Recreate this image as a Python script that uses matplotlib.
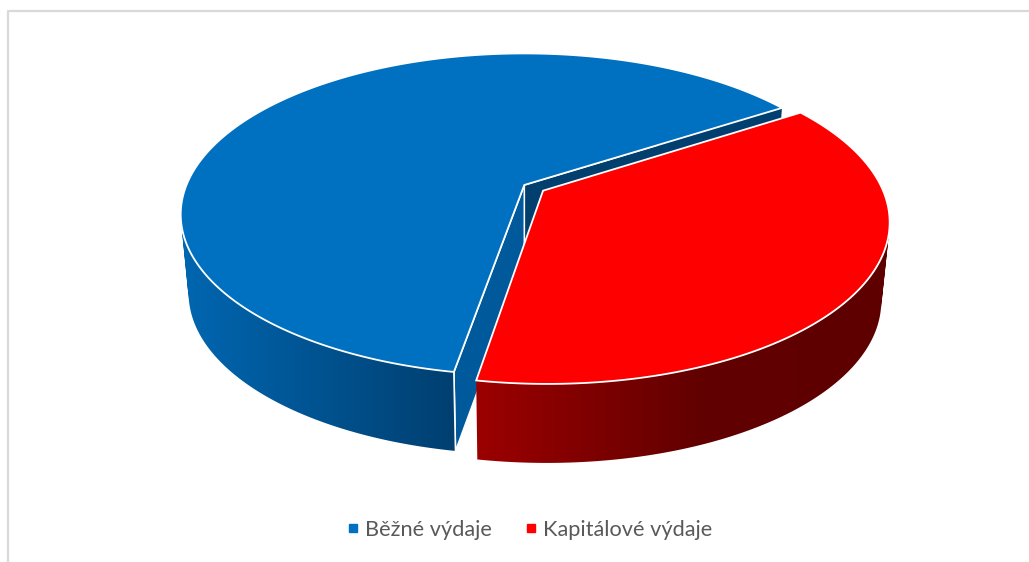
import numpy as np
import matplotlib
matplotlib.use("Agg")
import matplotlib.pyplot as plt
from matplotlib.colors import to_rgb
from matplotlib.lines import Line2D
from matplotlib.patches import PathPatch, Polygon
from matplotlib.path import Path

# data
categories = ["Běžné výdaje", "Kapitálové výdaje"]
values = [63.1, 36.9]
explode = [0.0, 0.066]

# style
top_colors = ["#0070C0", "#FF0000"]
wall_stops = [
    ([185, 455], ["#0066B0", "#003F70"]),
    ([477, 700, 890], ["#9C0000", "#620000", "#5E0000"]),
]
cut_front = "#00599B"
cut_back = "#003F6E"
START = 33.0
K = 0.1827
TOP = dict(ax=524.3, ay=185.0, rx=337.8, ry=155.6)
BOT = dict(ax=524.3, ay=264.0, rx=330.0, ry=155.6)


def project(u, v, p):
    w = 1 + K * v
    return p["ax"] + p["rx"] * u / w, p["ay"] - p["ry"] * v / w


def gradient_image(x0, x1, stops, cols):
    xs = np.linspace(x0, x1, 512)
    rgb = np.array([to_rgb(c) for c in cols])
    return np.dstack([np.interp(xs, stops, rgb[:, i]) for i in range(3)])


def wall_outline(tx, ty, bx, by):
    # union of small quads, all wound the same way so the silhouette stays filled
    parts = []
    for j in range(len(tx) - 1):
        q = np.array([(tx[j], ty[j]), (tx[j + 1], ty[j + 1]), (bx[j + 1], by[j + 1]), (bx[j], by[j])])
        x, y = q[:, 0], q[:, 1]
        if np.sum(x * np.roll(y, -1) - np.roll(x, -1) * y) < 0:
            q = q[::-1]
        parts.append(Path(np.vstack([q, q[:1]]), closed=True))
    return Path.make_compound_path(*parts)


fig = plt.figure(figsize=(10.29, 5.62), dpi=100, facecolor="white")
ax = fig.add_axes([0, 0, 1, 1])
ax.axis("off")

# chart frame
ax.add_line(Line2D([8, 8, 1029], [562, 11, 11], color="#D9D9D9", lw=1.6, zorder=0))

total = sum(values)
a0 = START
handles = []
for i, val in enumerate(values):
    sweep = 360.0 * val / total
    a1 = a0 + sweep
    mid = np.radians((a0 + a1) / 2)
    ou, ov = explode[i] * np.cos(mid), explode[i] * np.sin(mid)
    th = np.radians(np.linspace(a0, a1, 361))
    u, v = ou + np.cos(th), ov + np.sin(th)
    tx, ty = project(u, v, TOP)
    bx, by = project(u, v, BOT)
    acx, acy = project(ou, ov, TOP)
    bcx, bcy = project(ou, ov, BOT)
    z = 2 + i * 10

    # cut faces
    if i == 0:
        ax.add_patch(Polygon([(acx, acy), (tx[0], ty[0]), (bx[0], by[0]), (bcx, bcy)],
                             fc=cut_back, ec="white", lw=1.1, zorder=z + 1))
        ax.add_patch(Polygon([(acx, acy), (tx[-1], ty[-1]), (bx[-1], by[-1]), (bcx, bcy)],
                             fc=cut_front, ec="white", lw=1.1, zorder=z + 2))

    # curved wall with a smooth horizontal gradient, clipped to the wall outline
    st, co = wall_stops[i]
    wall = PathPatch(wall_outline(tx, ty, bx, by), fc="none", ec="none", transform=ax.transData)
    ax.add_patch(wall)
    x0, x1 = min(tx.min(), bx.min()) - 2, max(tx.max(), bx.max()) + 2
    y0, y1 = min(ty.min(), by.min()) - 2, max(ty.max(), by.max()) + 2
    im = ax.imshow(gradient_image(x0, x1, st, co), extent=(x0, x1, y1, y0), aspect="auto",
                   interpolation="bilinear", zorder=z + 2.5)
    im.set_clip_path(wall)

    # vertical edge at the front of the wall
    ax.add_line(Line2D([tx[-1], bx[-1]], [ty[-1], by[-1]], color="white", lw=1.2, zorder=z + 3))

    # top face
    pts = np.column_stack([np.r_[acx, tx], np.r_[acy, ty]])
    ax.add_patch(Polygon(pts, closed=True, fc=top_colors[i], ec="white", lw=1.3,
                         joinstyle="miter", zorder=z + 4))
    handles.append(Line2D([], [], ls="", marker="s", ms=6, mfc=top_colors[i], mec=top_colors[i],
                          label=categories[i]))
    a0 = a1

ax.set_xlim(0, 1029)
ax.set_ylim(562, 0)

leg = fig.legend(handles=handles, loc="lower center", bbox_to_anchor=(0.5132, 0.004), ncol=2,
                 frameon=False, prop={"family": "Lato", "size": 15.7}, labelcolor="#595959",
                 columnspacing=1.37, handletextpad=0.17, handlelength=0.8)

fig.savefig("out.png", dpi=100, facecolor="white")
